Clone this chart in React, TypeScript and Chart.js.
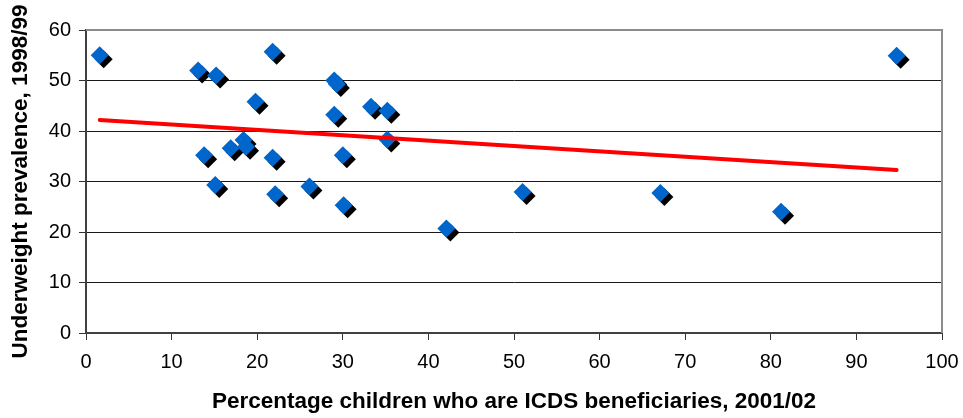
import React, { useEffect, useRef } from "react";
import { Chart, registerables } from "chart.js";

Chart.register(...registerables);

// ICDS coverage (x) against underweight prevalence (y), one point per state
const coverage = [
  1.6, 13.1, 15.2, 21.8, 29.0, 29.3, 19.8, 29.0, 33.3, 35.2, 35.2, 13.8, 16.9,
  18.4, 18.7, 21.8, 30.0, 15.1, 22.1, 26.1, 30.1, 42.1, 51.0, 67.1, 94.7, 81.2,
];
const underweight = [
  55.0, 52.0, 51.0, 55.7, 50.0, 49.3, 45.8, 43.2, 44.8, 44.0, 38.3, 35.2, 36.6,
  38.2, 36.9, 34.7, 35.2, 29.3, 27.5, 29.0, 25.3, 20.7, 27.9, 27.7, 54.9, 24.0,
];

// Linear trend line end points
const trendX = [1.6, 94.7];
const trendY = [42.2, 32.3];

const xTitle = "Percentage children who are ICDS beneficiaries, 2001/02";
const yTitle = "Underweight prevalence, 1998/99";

const FONT = "'Liberation Sans', Arial, sans-serif";

// Black drop shadow under the diamond markers
const markerShadow = {
  id: "markerShadow",
  beforeDatasetDraw(chart: any, args: any) {
    if (args.index !== 1) return;
    const ctx = chart.ctx;
    ctx.save();
    ctx.shadowColor = "#000000";
    ctx.shadowOffsetX = 4;
    ctx.shadowOffsetY = 4;
    ctx.shadowBlur = 0;
  },
  afterDatasetDraw(chart: any, args: any) {
    if (args.index !== 1) return;
    chart.ctx.restore();
  },
};

// Grey frame along the top and right edges of the plot area
const plotFrame = {
  id: "plotFrame",
  beforeDatasetsDraw(chart: any) {
    const { ctx, chartArea } = chart;
    const { left, top, right, bottom } = chartArea;
    ctx.save();
    ctx.strokeStyle = "#8c8c8c";
    ctx.lineWidth = 2;
    ctx.beginPath();
    ctx.moveTo(left, top);
    ctx.lineTo(right, top);
    ctx.lineTo(right, bottom);
    ctx.stroke();
    ctx.restore();
  },
};

export default function App() {
  const canvasRef = useRef<HTMLCanvasElement | null>(null);

  useEffect(() => {
    const canvas = canvasRef.current;
    if (!canvas) return;

    const points = coverage.map((x, i) => ({ x, y: underweight[i] }));
    const trend = trendX.map((x, i) => ({ x, y: trendY[i] }));

    const chart = new Chart(canvas, {
      type: "scatter",
      data: {
        datasets: [
          {
            type: "line",
            label: "Trend",
            data: trend,
            borderColor: "#ff0000",
            borderWidth: 4,
            borderCapStyle: "round",
            pointRadius: 0,
            fill: false,
          },
          {
            label: "States",
            data: points,
            pointStyle: "rectRot",
            pointRadius: 9,
            pointHoverRadius: 9,
            backgroundColor: "#0066cc",
            borderWidth: 0,
          },
        ],
      },
      options: {
        responsive: false,
        animation: false,
        layout: { padding: { top: 30, right: 21, left: 0, bottom: 0 } },
        plugins: {
          legend: { display: false },
          tooltip: { enabled: false },
        },
        scales: {
          x: {
            type: "linear",
            min: 0,
            max: 100,
            afterFit(scale: any) {
              scale.height = 85;
              scale.paddingLeft = 0;
              scale.paddingRight = 0;
            },
            ticks: {
              stepSize: 10,
              color: "#000",
              padding: 10,
              maxRotation: 0,
              font: { family: FONT, size: 20 },
            },
            grid: {
              drawOnChartArea: false,
              tickLength: 7,
              tickColor: "#333",
            },
            border: { display: true, color: "#404040", width: 2 },
            title: {
              display: true,
              text: xTitle,
              color: "#000",
              padding: { top: 0, bottom: 3 },
              font: { family: FONT, size: 22.5, weight: "bold" },
            },
          },
          y: {
            type: "linear",
            min: 0,
            max: 60,
            afterFit(scale: any) {
              scale.width = 86;
            },
            ticks: {
              stepSize: 10,
              color: "#000",
              padding: 8,
              font: { family: FONT, size: 20 },
            },
            grid: {
              color: "#1a1a1a",
              lineWidth: 1,
              tickLength: 7,
              tickColor: "#333",
            },
            border: { display: true, color: "#404040", width: 2 },
            title: {
              display: true,
              text: yTitle,
              color: "#000",
              padding: { top: 7, bottom: 0 },
              font: { family: FONT, size: 22.5, weight: "bold" },
            },
          },
        },
      },
      plugins: [markerShadow, plotFrame],
    });

    return () => chart.destroy();
  }, []);

  return (
    <div style={{ position: "fixed", left: 0, top: 0, width: 963, height: 418, background: "#fff" }}>
      <canvas ref={canvasRef} width={963} height={418} style={{ display: "block" }} />
    </div>
  );
}
